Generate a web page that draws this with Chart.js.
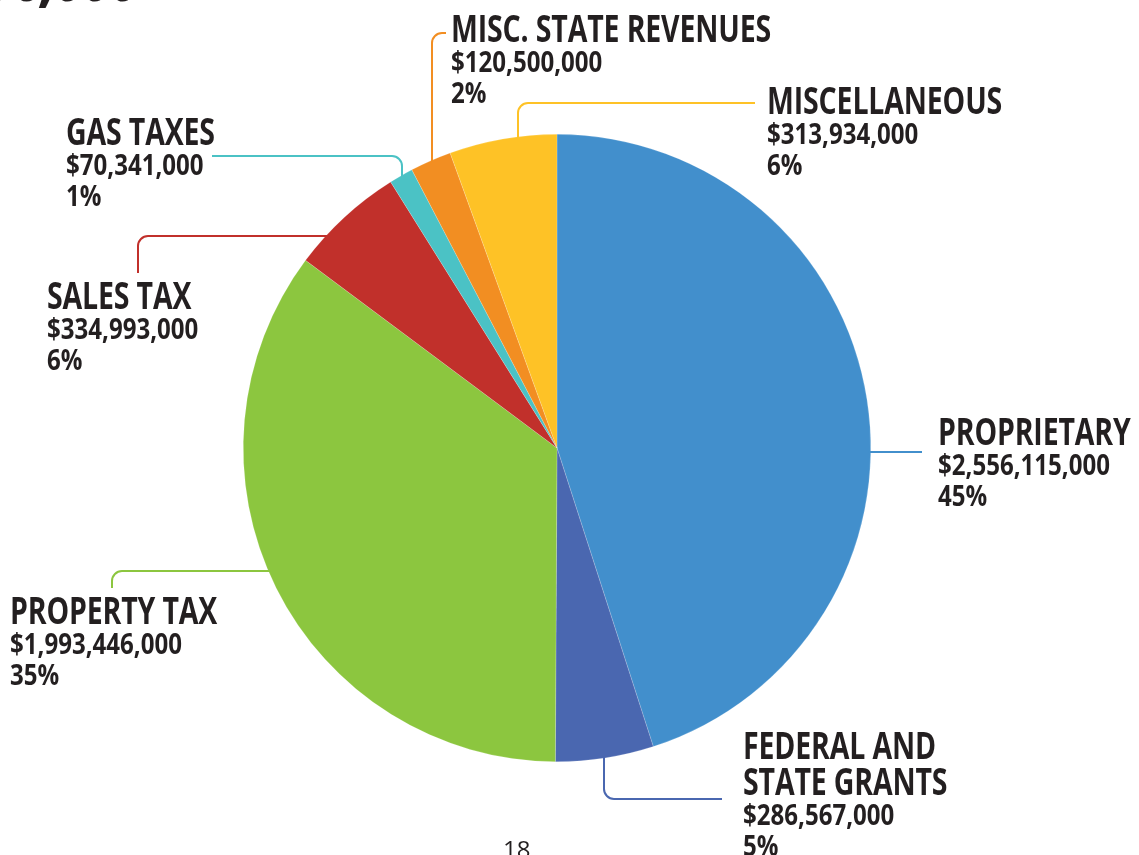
<!DOCTYPE html>
<html>
<head>
<meta charset="utf-8">
<script src="https://cdn.jsdelivr.net/npm/chart.js@4"></script>
<style>
  html, body { margin: 0; padding: 0; background: #fff; overflow: hidden; }
  #wrap { position: relative; width: 1139px; height: 855px; overflow: hidden; }
  #wrap canvas { position: absolute; left: 0; top: 0; }
  .lbl { position: absolute; color: #231f20; font-family: "Open Sans", sans-serif; font-weight: 700; white-space: nowrap; }
  .t { font-size: 38px; line-height: 36px; transform: scaleX(0.75); transform-origin: left center; letter-spacing: -0.2px; }
  .v { font-size: 29px; line-height: 31px; transform: scaleX(0.83); transform-origin: left center; }
  #head { position: absolute; right: 1000px; top: -51px; font-family: "Open Sans", sans-serif; font-weight: 800; font-style: italic; font-size: 56px; line-height: 60px; color: #231f20; white-space: nowrap; transform: scaleX(0.85); transform-origin: right center; }
  #page { position: absolute; left: 503px; top: 834px; font-family: "Open Sans", sans-serif; font-size: 24px; line-height: 30px; color: #231f20; }
</style>
</head>
<body>
<div id="wrap">
  <canvas id="c"></canvas>
  <div id="head">$5,675,896,000</div>
  <div id="page">18</div>
</div>
<script>
// ---- data ----
const categories = ["PROPRIETARY", "FEDERAL AND STATE GRANTS", "PROPERTY TAX", "SALES TAX", "GAS TAXES", "MISC. STATE REVENUES", "MISCELLANEOUS"];
const titleLines = [["PROPRIETARY"], ["FEDERAL AND", "STATE GRANTS"], ["PROPERTY TAX"], ["SALES TAX"], ["GAS TAXES"], ["MISC. STATE REVENUES"], ["MISCELLANEOUS"]];
const amounts = [2556115000, 286567000, 1993446000, 334993000, 70341000, 120500000, 313934000];
const percentLabels = ["45%", "5%", "35%", "6%", "1%", "2%", "6%"];
const colors = ["#428fcc", "#4a67b0", "#8cc63f", "#c1302b", "#4bc2c5", "#f28e22", "#fec226"];

// ---- layout (label boxes and leader paths) ----
const labelPos = [
  {x: 938, y: 412}, {x: 743, y: 726}, {x: 10, y: 591}, {x: 47, y: 276},
  {x: 66, y: 112}, {x: 451, y: 9}, {x: 767, y: 81}
];
// leader: start on circle (h: horizontal line at y, side; v: vertical line at x, side), then waypoints
const leaders = [
  {start: {axis: 'h', at: 452, side: 'right'}, pts: [[922, 452]]},
  {start: {axis: 'v', at: 604, side: 'bottom'}, pts: [[604, 799], [722, 799]]},
  {start: {axis: 'h', at: 571, side: 'left'}, pts: [[112, 571], [112, 588]]},
  {start: {axis: 'h', at: 236, side: 'left'}, pts: [[138, 236], [138, 273]]},
  {start: {axis: 'v', at: 402, side: 'top'}, pts: [[402, 156], [212, 156]]},
  {start: {axis: 'v', at: 432, side: 'top'}, pts: [[432, 33], [446, 33]]},
  {start: {axis: 'v', at: 518, side: 'top'}, pts: [[518, 103], [755, 103]]}
];

const fmt = v => "$" + v.toLocaleString("en-US");

const wrap = document.getElementById('wrap');
categories.forEach((c, i) => {
  const d = document.createElement('div');
  d.className = 'lbl';
  d.style.left = labelPos[i].x + 'px';
  d.style.top = labelPos[i].y + 'px';
  let html = '';
  titleLines[i].forEach(t => html += '<div class="t">' + t + '</div>');
  html += '<div class="v">' + fmt(amounts[i]) + '</div>';
  html += '<div class="v">' + percentLabels[i] + '</div>';
  d.innerHTML = html;
  wrap.appendChild(d);
});

const leaderPlugin = {
  id: 'leaders',
  afterDraw(chart) {
    const arc = chart.getDatasetMeta(0).data[0];
    const cx = arc.x, cy = arc.y, r = arc.outerRadius;
    const ctx = chart.ctx;
    ctx.save();
    ctx.lineWidth = 2;
    ctx.lineJoin = 'round';
    leaders.forEach((L, i) => {
      let sx, sy;
      if (L.start.axis === 'h') {
        sy = L.start.at;
        const dx = Math.sqrt(Math.max(0, r * r - (sy - cy) * (sy - cy)));
        sx = L.start.side === 'right' ? cx + dx - 2 : cx - dx + 2;
      } else {
        sx = L.start.at;
        const dy = Math.sqrt(Math.max(0, r * r - (sx - cx) * (sx - cx)));
        sy = L.start.side === 'bottom' ? cy + dy - 2 : cy - dy + 2;
      }
      const pts = [[sx, sy]].concat(L.pts);
      ctx.strokeStyle = colors[i];
      ctx.beginPath();
      ctx.moveTo(pts[0][0], pts[0][1]);
      for (let k = 1; k < pts.length - 1; k++) {
        ctx.arcTo(pts[k][0], pts[k][1], pts[k + 1][0], pts[k + 1][1], 10);
      }
      const last = pts[pts.length - 1];
      ctx.lineTo(last[0], last[1]);
      ctx.stroke();
    });
    ctx.restore();
  }
};

new Chart(document.getElementById('c'), {
  type: 'pie',
  data: {
    labels: categories,
    datasets: [{
      data: amounts,
      backgroundColor: colors,
      borderColor: 'rgba(255,255,255,0.35)',
      borderWidth: 0.5
    }]
  },
  options: {
    responsive: true,
    maintainAspectRatio: false,
    animation: false,
    layout: { padding: { left: 243, right: 268, top: 134, bottom: 93 } },
    plugins: { legend: { display: false }, tooltip: { enabled: false } }
  },
  plugins: [leaderPlugin]
});
</script>
</body>
</html>
